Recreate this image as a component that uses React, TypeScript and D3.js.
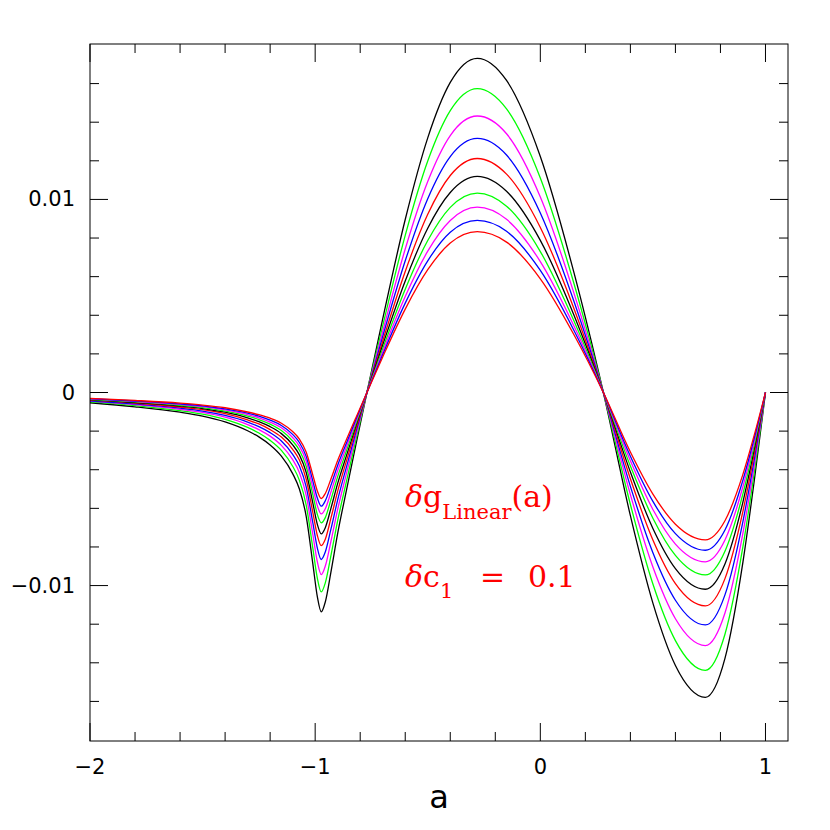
import * as d3 from "d3";

// shared abscissa (a)
const aValues = [
  -2.0, -1.8, -1.6, -1.5, -1.4, -1.3, -1.25, -1.2, -1.15, -1.1, -1.07, -1.04, -1.01, -0.99,
  -0.973, -0.955, -0.93, -0.9, -0.86, -0.82, -0.77, -0.7, -0.6, -0.5, -0.4,
  -0.28, -0.15, 0.0, 0.15, 0.28, 0.4, 0.5, 0.6, 0.733, 0.82, 0.9, 0.95, 1.0,
];

// curve values, in units of 1e-3
const black1 = [
  -0.53, -0.74, -1.02, -1.22, -1.52, -1.98, -2.3, -2.72, -3.3, -4.2, -5.0, -6.4, -8.9, -10.6,
  -11.36, -10.85, -9.3, -7.3, -5.0, -2.75, 0, 3.81, 8.96, 13.19, 16.06,
  17.31, 16.16, 12.22, 6.18, 0, -6.38, -10.91, -14.14, -15.79, -13.77, -8.77, -4.58, 0,
];
const green1 = [
  -0.49, -0.68, -0.94, -1.12, -1.39, -1.81, -2.1, -2.48, -3.0, -3.82, -4.55, -5.82, -8.09, -9.64,
  -10.33, -9.86, -8.45, -6.64, -4.55, -2.5, 0, 3.46, 8.14, 11.99, 14.6,
  15.74, 14.69, 11.11, 5.62, 0, -5.8, -9.92, -12.85, -14.39, -12.52, -7.97, -4.16, 0,
];
const magenta1 = [
  -0.45, -0.63, -0.87, -1.03, -1.28, -1.66, -1.92, -2.26, -2.74, -3.48, -4.15, -5.31, -7.38, -8.79,
  -9.43, -8.99, -7.71, -6.05, -4.15, -2.28, 0, 3.16, 7.43, 10.93, 13.31,
  14.32, 13.4, 10.13, 5.12, 0, -5.29, -9.04, -11.72, -13.11, -11.42, -7.27, -3.8, 0,
];
const blue1 = [
  -0.43, -0.59, -0.81, -0.96, -1.19, -1.53, -1.77, -2.08, -2.51, -3.2, -3.81, -4.87, -6.77, -8.07,
  -8.65, -8.26, -7.08, -5.56, -3.81, -2.09, 0, 2.9, 6.82, 10.04, 12.22,
  13.16, 12.3, 9.3, 4.7, 0, -4.86, -8.3, -10.76, -12.04, -10.48, -6.67, -3.49, 0,
];
const red1 = [
  -0.4, -0.55, -0.75, -0.89, -1.1, -1.42, -1.63, -1.92, -2.31, -2.94, -3.5, -4.48, -6.23, -7.42,
  -7.93, -7.6, -6.51, -5.11, -3.5, -1.93, 0, 2.67, 6.27, 9.23, 11.24,
  12.12, 11.31, 8.55, 4.33, 0, -4.47, -7.64, -9.9, -11.05, -9.64, -6.14, -3.21, 0,
];
const black2 = [
  -0.37, -0.52, -0.7, -0.83, -1.02, -1.31, -1.51, -1.77, -2.13, -2.71, -3.23, -4.13, -5.74, -6.84,
  -7.32, -7.0, -6.0, -4.71, -3.23, -1.77, 0, 2.46, 5.78, 8.51, 10.36,
  11.19, 10.42, 7.88, 3.99, 0, -4.12, -7.04, -9.12, -10.19, -8.88, -5.66, -2.95, 0,
];
const green2 = [
  -0.35, -0.49, -0.66, -0.78, -0.96, -1.22, -1.4, -1.64, -1.97, -2.51, -2.99, -3.82, -5.31, -6.33,
  -6.75, -6.48, -5.55, -4.36, -2.99, -1.64, 0, 2.27, 5.35, 7.87, 9.59,
  10.33, 9.65, 7.3, 3.69, 0, -3.81, -6.51, -8.44, -9.45, -8.22, -5.24, -2.73, 0,
];
const magenta2 = [
  -0.33, -0.46, -0.62, -0.73, -0.9, -1.14, -1.31, -1.53, -1.83, -2.33, -2.78, -3.55, -4.94, -5.88,
  -6.29, -6.02, -5.16, -4.05, -2.78, -1.53, 0, 2.11, 4.97, 7.32, 8.91,
  9.6, 8.97, 6.78, 3.43, 0, -3.54, -6.06, -7.85, -8.77, -7.64, -4.87, -2.54, 0,
];
const blue2 = [
  -0.32, -0.44, -0.59, -0.69, -0.85, -1.07, -1.22, -1.43, -1.71, -2.17, -2.59, -3.31, -4.6, -5.48,
  -5.89, -5.61, -4.81, -3.77, -2.59, -1.42, 0, 1.97, 4.63, 6.82, 8.3,
  8.91, 8.35, 6.32, 3.2, 0, -3.3, -5.64, -7.31, -8.17, -7.12, -4.53, -2.37, 0,
];
const red2 = [
  -0.3, -0.41, -0.55, -0.65, -0.79, -1.01, -1.15, -1.33, -1.59, -2.02, -2.41, -3.08, -4.29, -5.11,
  -5.49, -5.23, -4.48, -3.52, -2.41, -1.33, 0, 1.84, 4.32, 6.36, 7.74,
  8.33, 7.79, 5.89, 2.98, 0, -3.08, -5.26, -6.82, -7.63, -6.64, -4.23, -2.21, 0,
];

const curves = [black1, green1, magenta1, blue1, red1, black2, green2, magenta2, blue2, red2];
const curveColors = ["#000000", "#00ff00", "#ff00ff", "#0000ff", "#ff0000",
  "#000000", "#00ff00", "#ff00ff", "#0000ff", "#ff0000"];

const xMajorTicks = [-2, -1, 0, 1];
const xTickLabels = ["\u22122", "\u22121", "0", "1"];
const yMajorTicks = [-10, 0, 10];
const yTickLabels = ["\u22120.01", "0", "0.01"];

export default function App() {
  const width = 830;
  const height = 830;
  const left = 90, right = 788, top = 44, bottom = 741;

  const x = d3.scaleLinear([-2, 1.1], [left, right]);
  const y = d3.scaleLinear([-18.05, 18.05], [bottom, top]);
  const line = d3.line<number>((d, i) => x(aValues[i]), (d) => y(d)).curve(d3.curveMonotoneX);

  const xMinor = d3.range(-10, 6).map((i) => i / 5).filter((v) => !xMajorTicks.includes(v));
  const yMinor = d3.range(-8, 9).map((i) => i * 2).filter((v) => !yMajorTicks.includes(v));
  const minorLen = 9, majorLen = 18;

  return (
    <svg width={width} height={height} style={{ position: "absolute", left: 0, top: 0, background: "#fff" }}>
      <g fill="none" strokeWidth="1.3">
        {curves.map((c, i) => (
          <path key={i} d={line(c) ?? ""} stroke={curveColors[i]} />
        ))}
      </g>
      <g stroke="#000" strokeWidth="1">
        <rect x={left} y={top} width={right - left} height={bottom - top} fill="none" />
        {xMinor.map((v) => (
          <g key={"xm" + v}>
            <line x1={x(v)} x2={x(v)} y1={bottom} y2={bottom - minorLen} />
            <line x1={x(v)} x2={x(v)} y1={top} y2={top + minorLen} />
          </g>
        ))}
        {xMajorTicks.map((v) => (
          <g key={"xM" + v}>
            <line x1={x(v)} x2={x(v)} y1={bottom} y2={bottom - majorLen} />
            <line x1={x(v)} x2={x(v)} y1={top} y2={top + majorLen} />
          </g>
        ))}
        {yMinor.map((v) => (
          <g key={"ym" + v}>
            <line x1={left} x2={left + minorLen} y1={y(v)} y2={y(v)} />
            <line x1={right} x2={right - minorLen} y1={y(v)} y2={y(v)} />
          </g>
        ))}
        {yMajorTicks.map((v) => (
          <g key={"yM" + v}>
            <line x1={left} x2={left + majorLen} y1={y(v)} y2={y(v)} />
            <line x1={right} x2={right - majorLen} y1={y(v)} y2={y(v)} />
          </g>
        ))}
      </g>
      <g fontFamily="DejaVu Sans" fontSize="21" fill="#000">
        {xMajorTicks.map((v, i) => (
          <text key={"xl" + v} x={x(v)} y={bottom + 33} textAnchor="middle">{xTickLabels[i]}</text>
        ))}
        {yMajorTicks.map((v, i) => (
          <text key={"yl" + v} x={left - 15} y={y(v)} textAnchor="end" dominantBaseline="central">{yTickLabels[i]}</text>
        ))}
        <text x={(left + right) / 2} y={808} textAnchor="middle" fontSize="32">a</text>
      </g>
      <g fontFamily="DejaVu Serif" fill="#ff0000">
        <text x={405} y={507} fontSize="30">
          <tspan fontStyle="italic">δ</tspan>g<tspan fontSize="21" dy="12">Linear</tspan><tspan dy="-12">(a)</tspan>
        </text>
        <text x={405} y={587} fontSize="30">
          <tspan fontStyle="italic">δ</tspan>c<tspan fontSize="21" dy="11">1</tspan>
        </text>
        <text x={480} y={587} fontSize="30">=</text>
        <text x={528} y={587} fontSize="30">0.1</text>
      </g>
    </svg>
  );
}
